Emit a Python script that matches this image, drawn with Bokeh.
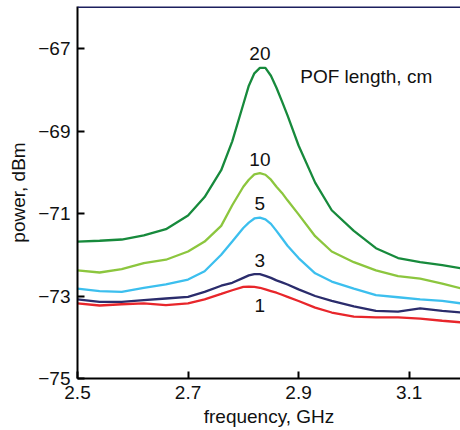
from bokeh.plotting import figure
from bokeh.models import Range1d, FixedTicker, Span
from bokeh.core.properties import value
from bokeh.embed import file_html
from bokeh.resources import INLINE

freq = [2.50, 2.54, 2.58, 2.62, 2.66, 2.70, 2.73, 2.76, 2.78, 2.80, 2.81, 2.82, 2.83, 2.84,
        2.85, 2.86, 2.87, 2.88, 2.90, 2.93, 2.96, 3.00, 3.04, 3.08, 3.12, 3.16, 3.195]

p20 = [-71.68, -71.66, -71.63, -71.53, -71.38, -71.05, -70.60, -69.95, -69.25, -68.35, -67.90, -67.60, -67.47, -67.47,
       -67.66, -67.95, -68.28, -68.62, -69.35, -70.25, -70.92, -71.42, -71.84, -72.08, -72.18, -72.25, -72.33]
p10 = [-72.38, -72.43, -72.35, -72.20, -72.12, -71.92, -71.68, -71.30, -70.80, -70.35, -70.18, -70.05, -70.02, -70.06,
       -70.18, -70.35, -70.50, -70.68, -71.02, -71.55, -71.92, -72.18, -72.38, -72.52, -72.58, -72.70, -72.82]
p5 = [-72.82, -72.88, -72.90, -72.80, -72.72, -72.60, -72.40, -72.00, -71.68, -71.35, -71.22, -71.12, -71.10, -71.14,
      -71.25, -71.42, -71.60, -71.78, -72.08, -72.45, -72.65, -72.82, -72.98, -73.03, -73.08, -73.12, -73.18]
p3 = [-73.08, -73.14, -73.14, -73.10, -73.06, -73.02, -72.90, -72.75, -72.68, -72.56, -72.50, -72.47, -72.47, -72.51,
      -72.56, -72.62, -72.67, -72.72, -72.84, -73.00, -73.12, -73.25, -73.36, -73.38, -73.30, -73.36, -73.40]
p1 = [-73.18, -73.23, -73.20, -73.18, -73.22, -73.18, -73.08, -72.95, -72.86, -72.78, -72.77, -72.78, -72.80, -72.84,
      -72.88, -72.92, -72.97, -73.02, -73.12, -73.28, -73.40, -73.50, -73.52, -73.52, -73.55, -73.60, -73.64]

series = [("20", p20, "#178a3c"), ("10", p10, "#8cc63e"), ("5", p5, "#3cbfee"),
          ("3", p3, "#2b2c6c"), ("1", p1, "#e8262b")]

x_ticks = [2.5, 2.7, 2.9, 3.1]
y_ticks = [-75, -73, -71, -69, -67]

FONT = "Liberation Sans"
FS = "19px"
Y_TOP = -65.98

p = figure(width=460, height=430, output_backend="svg", toolbar_location=None,
           x_range=Range1d(2.5, 3.193), y_range=Range1d(-75, Y_TOP),
           min_border_left=77, min_border_right=0, min_border_top=6, min_border_bottom=52)
p.grid.visible = False
p.outline_line_color = None
p.background_fill_color = "white"

for lab, ys, col in series:
    p.line(freq, ys, line_color=col, line_width=2.3)

# curve labels placed above/below the peak of the strongest curve
peak_i = p20.index(max(p20))
px = freq[peak_i]
for lab, ys, col in series:
    pk = max(ys)
    off = 19 if lab == "1" else -14
    p.text(x=[px], y=[pk], text=[lab], text_align="center", text_baseline="middle",
           y_offset=off, text_font=value(FONT), text_font_size=FS, text_color="#111111")

p.text(x=[2.903], y=[-67.68], text=["POF length, cm"], text_align="left", text_baseline="middle",
       text_font=value(FONT), text_font_size=FS, text_color="#111111")

p.add_layout(Span(location=Y_TOP, dimension="width", line_color="#1c1f5e", line_width=3))

for ax in (p.xaxis[0], p.yaxis[0]):
    ax.axis_line_color = "black"
    ax.axis_line_width = 2
    ax.major_tick_line_color = "black"
    ax.major_tick_line_width = 2
    ax.major_tick_in = 7
    ax.major_tick_out = 0
    ax.minor_tick_line_color = None
    ax.major_label_text_font = FONT
    ax.major_label_text_font_size = FS
    ax.major_label_text_color = "#111111"
    ax.axis_label_text_font = FONT
    ax.axis_label_text_font_size = FS
    ax.axis_label_text_font_style = "normal"
    ax.axis_label_text_color = "#111111"

p.xaxis.ticker = FixedTicker(ticks=x_ticks)
p.yaxis.ticker = FixedTicker(ticks=y_ticks)
p.xaxis.major_label_overrides = {t: f"{t:.1f}" for t in x_ticks}
p.yaxis.major_label_overrides = {t: "\u2212" + str(abs(t)) for t in y_ticks}
p.xaxis.axis_label = "frequency, GHz"
p.yaxis.axis_label = "power, dBm"
p.xaxis.major_label_standoff = 7
p.yaxis.major_label_standoff = 7
p.xaxis.axis_label_standoff = 4
p.yaxis.axis_label_standoff = 6

open("out.html", "w").write(file_html(p, INLINE))
